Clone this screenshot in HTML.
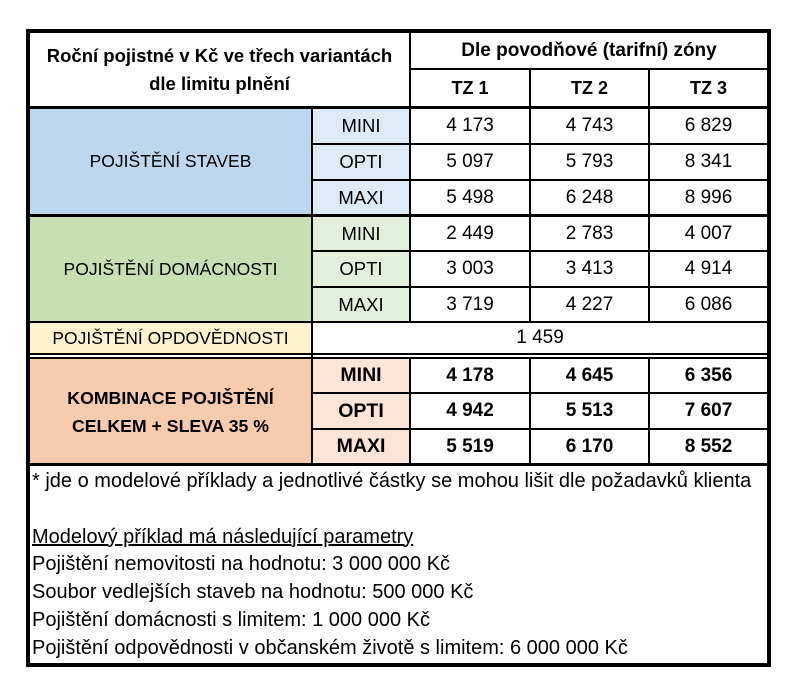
<!DOCTYPE html>
<html>
<head>
<meta charset="utf-8">
<style>
  html,body{margin:0;padding:0;background:#fff;}
  #c{position:relative;width:800px;height:695px;overflow:hidden;background:#fff;
     font-family:"Liberation Sans","DejaVu Sans",sans-serif;color:#000;}
  .r{position:absolute;}
  .k{position:absolute;background:#000;}
  .t{position:absolute;display:flex;align-items:center;justify-content:center;text-align:center;white-space:nowrap;}
  .lab{font-size:17.5px;}
  .var{font-size:18.5px;}
  .vb{font-size:19.5px;font-weight:bold;}
  .num{font-size:19px;}
  .nb{font-size:19px;font-weight:bold;}
  .hd{font-size:18.5px;font-weight:bold;}
  .notes{position:absolute;left:32px;top:468px;font-size:20px;line-height:27.75px;white-space:nowrap;}
</style>
</head>
<body>
<div id="c">
  <!-- fills -->
  <div class="r" style="left:30px;top:108px;width:282px;height:107px;background:#BDD7EE;"></div>
  <div class="r" style="left:312px;top:108px;width:98px;height:107px;background:#DDEBF7;"></div>
  <div class="r" style="left:30px;top:216px;width:282px;height:106px;background:#C6E0B4;"></div>
  <div class="r" style="left:312px;top:216px;width:98px;height:106px;background:#E2EFDA;"></div>
  <div class="r" style="left:30px;top:322px;width:282px;height:32px;background:#FFF2CC;"></div>
  <div class="r" style="left:30px;top:358px;width:282px;height:106px;background:#F8CBAD;"></div>
  <div class="r" style="left:312px;top:358px;width:98px;height:106px;background:#FCE4D6;"></div>

  <!-- outer border -->
  <div class="r" style="left:26px;top:29px;width:745px;height:638px;box-sizing:border-box;border:4px solid #000;"></div>

  <!-- horizontal lines -->
  <div class="k" style="left:409px;top:68px;width:358px;height:2px;"></div>
  <div class="k" style="left:30px;top:106px;width:737px;height:3px;"></div>
  <div class="k" style="left:311px;top:143px;width:456px;height:2px;"></div>
  <div class="k" style="left:311px;top:179px;width:456px;height:2px;"></div>
  <div class="k" style="left:30px;top:214px;width:737px;height:3px;"></div>
  <div class="k" style="left:311px;top:250px;width:456px;height:2px;"></div>
  <div class="k" style="left:311px;top:286px;width:456px;height:2px;"></div>
  <div class="k" style="left:30px;top:321px;width:737px;height:2px;"></div>
  <div class="k" style="left:30px;top:353px;width:737px;height:2px;"></div>
  <div class="k" style="left:30px;top:357px;width:737px;height:2px;"></div>
  <div class="k" style="left:311px;top:392px;width:456px;height:2px;"></div>
  <div class="k" style="left:311px;top:428px;width:456px;height:2px;"></div>
  <div class="k" style="left:30px;top:463px;width:737px;height:3px;"></div>

  <!-- vertical lines -->
  <div class="k" style="left:409px;top:33px;width:2px;height:289px;"></div>
  <div class="k" style="left:409px;top:358px;width:2px;height:106px;"></div>
  <div class="k" style="left:311px;top:108px;width:2px;height:356px;"></div>
  <div class="k" style="left:529px;top:69px;width:2px;height:253px;"></div>
  <div class="k" style="left:529px;top:358px;width:2px;height:106px;"></div>
  <div class="k" style="left:648px;top:69px;width:2px;height:253px;"></div>
  <div class="k" style="left:648px;top:358px;width:2px;height:106px;"></div>

  <!-- header texts -->
  <div class="t hd" style="left:30px;top:33px;width:379px;height:73px;line-height:28px;flex-direction:column;">
    <div>Roční pojistné v Kč ve třech variantách</div>
    <div>dle limitu plnění</div>
  </div>
  <div class="t hd" style="left:411px;top:33px;width:356px;height:35px;font-size:19px;">Dle povodňové (tarifní) zóny</div>
  <div class="t hd" style="left:411px;top:70px;width:118px;height:36px;font-size:18px;">TZ 1</div>
  <div class="t hd" style="left:531px;top:70px;width:117px;height:36px;font-size:18px;">TZ 2</div>
  <div class="t hd" style="left:650px;top:70px;width:117px;height:36px;font-size:18px;">TZ 3</div>

  <!-- group labels -->
  <div class="t lab" style="left:30px;top:109px;width:281px;height:105px;">POJIŠTĚNÍ STAVEB</div>
  <div class="t lab" style="left:30px;top:217px;width:281px;height:104px;">POJIŠTĚNÍ DOMÁCNOSTI</div>
  <div class="t lab" style="left:30px;top:323px;width:281px;height:30px;">POJIŠTĚNÍ OPDOVĚDNOSTI</div>
  <div class="t" style="left:30px;top:359px;width:281px;height:104px;flex-direction:column;font-size:17.7px;font-weight:bold;line-height:28px;padding-top:2px;box-sizing:border-box;">
    <div>KOMBINACE POJIŠTĚNÍ</div>
    <div>CELKEM + SLEVA 35 %</div>
  </div>

  <!-- variant labels -->
  <div class="t var" style="left:313px;top:109px;width:96px;height:34px;">MINI</div>
  <div class="t var" style="left:313px;top:145px;width:96px;height:34px;">OPTI</div>
  <div class="t var" style="left:313px;top:181px;width:96px;height:33px;">MAXI</div>
  <div class="t var" style="left:313px;top:217px;width:96px;height:33px;">MINI</div>
  <div class="t var" style="left:313px;top:252px;width:96px;height:34px;">OPTI</div>
  <div class="t var" style="left:313px;top:288px;width:96px;height:33px;">MAXI</div>
  <div class="t vb" style="left:313px;top:359px;width:96px;height:33px;">MINI</div>
  <div class="t vb" style="left:313px;top:394px;width:96px;height:34px;">OPTI</div>
  <div class="t vb" style="left:313px;top:430px;width:96px;height:33px;">MAXI</div>

  <!-- numbers: staveb -->
  <div class="t num" style="left:411px;top:109px;width:118px;height:34px;">4 173</div>
  <div class="t num" style="left:531px;top:109px;width:117px;height:34px;">4 743</div>
  <div class="t num" style="left:650px;top:109px;width:117px;height:34px;">6 829</div>
  <div class="t num" style="left:411px;top:145px;width:118px;height:34px;">5 097</div>
  <div class="t num" style="left:531px;top:145px;width:117px;height:34px;">5 793</div>
  <div class="t num" style="left:650px;top:145px;width:117px;height:34px;">8 341</div>
  <div class="t num" style="left:411px;top:181px;width:118px;height:33px;">5 498</div>
  <div class="t num" style="left:531px;top:181px;width:117px;height:33px;">6 248</div>
  <div class="t num" style="left:650px;top:181px;width:117px;height:33px;">8 996</div>
  <!-- domacnost -->
  <div class="t num" style="left:411px;top:217px;width:118px;height:33px;">2 449</div>
  <div class="t num" style="left:531px;top:217px;width:117px;height:33px;">2 783</div>
  <div class="t num" style="left:650px;top:217px;width:117px;height:33px;">4 007</div>
  <div class="t num" style="left:411px;top:252px;width:118px;height:34px;">3 003</div>
  <div class="t num" style="left:531px;top:252px;width:117px;height:34px;">3 413</div>
  <div class="t num" style="left:650px;top:252px;width:117px;height:34px;">4 914</div>
  <div class="t num" style="left:411px;top:288px;width:118px;height:33px;">3 719</div>
  <div class="t num" style="left:531px;top:288px;width:117px;height:33px;">4 227</div>
  <div class="t num" style="left:650px;top:288px;width:117px;height:33px;">6 086</div>
  <!-- odpovednost -->
  <div class="t num" style="left:313px;top:323px;width:454px;height:30px;">1 459</div>
  <!-- kombinace -->
  <div class="t nb" style="left:411px;top:359px;width:118px;height:33px;">4 178</div>
  <div class="t nb" style="left:531px;top:359px;width:117px;height:33px;">4 645</div>
  <div class="t nb" style="left:650px;top:359px;width:117px;height:33px;">6 356</div>
  <div class="t nb" style="left:411px;top:394px;width:118px;height:34px;">4 942</div>
  <div class="t nb" style="left:531px;top:394px;width:117px;height:34px;">5 513</div>
  <div class="t nb" style="left:650px;top:394px;width:117px;height:34px;">7 607</div>
  <div class="t nb" style="left:411px;top:430px;width:118px;height:33px;">5 519</div>
  <div class="t nb" style="left:531px;top:430px;width:117px;height:33px;">6 170</div>
  <div class="t nb" style="left:650px;top:430px;width:117px;height:33px;">8 552</div>

  <!-- notes -->
  <div class="notes">
    <div>* jde o modelové příklady a jednotlivé částky se mohou lišit dle požadavků klienta</div>
    <div>&nbsp;</div>
    <div><span style="text-decoration:underline;">Modelový příklad má následující parametry</span></div>
    <div>Pojištění nemovitosti na hodnotu: 3 000 000 Kč</div>
    <div>Soubor vedlejších staveb na hodnotu: 500 000 Kč</div>
    <div>Pojištění domácnosti s limitem: 1 000 000 Kč</div>
    <div>Pojištění odpovědnosti v občanském životě s limitem: 6 000 000 Kč</div>
  </div>
</div>
</body>
</html>
